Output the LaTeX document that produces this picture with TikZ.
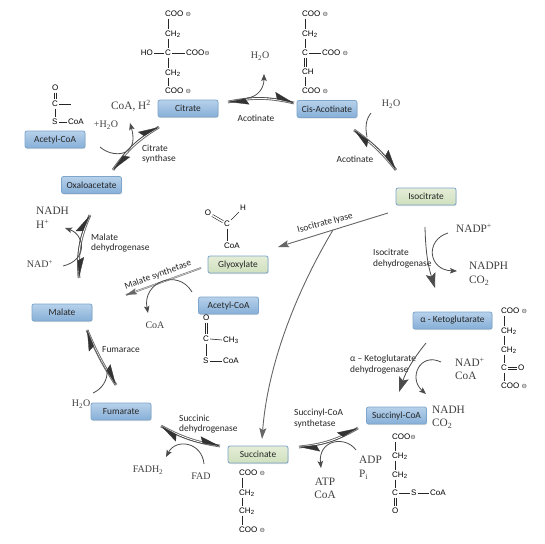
\documentclass[tikz,border=0pt]{standalone}
\usepackage{fontspec}
\setmainfont{Liberation Serif}
\newfontfamily\labfont{Carlito}
\newfontfamily\chemfont{Liberation Sans}
\newfontfamily\symfnt{DejaVu Sans}
\usetikzlibrary{arrows.meta,shadows,calc}
\definecolor{boxtop}{HTML}{B7D1EA}
\definecolor{boxbot}{HTML}{86AFD8}
\definecolor{boxline}{HTML}{7EA6CC}
\definecolor{greentop}{HTML}{E4EDD6}
\definecolor{greenbot}{HTML}{CFE0BE}
\definecolor{serifgray}{HTML}{404040}
\newcommand{\negc}{{\symfnt\fontsize{6.5}{7}\selectfont\color{black!75}⊖}}
\newcommand{\rxn}[3]{%
  \draw[rxline] (#1) to[bend left=#3] (#2);
  \draw[rxtips] (#1) to[bend left=#3] (#2);}
\newcommand{\bondv}[2]{\draw[bond] ([xshift=4pt]#1.south west) -- ([xshift=4pt]#2.north west);}
\newcommand{\bondd}[2]{%
  \draw[bond] ([xshift=3pt]#1.south west) -- ([xshift=3pt]#2.north west);
  \draw[bond] ([xshift=5pt]#1.south west) -- ([xshift=5pt]#2.north west);}
\newcommand{\bondh}[2]{\draw[bond] (#1.east) -- (#2.west);}
\tikzset{
  pathway/.style={rounded corners=2pt,minimum width=60pt,minimum height=17pt,inner sep=0pt,
    font=\labfont\fontsize{9.4}{10}\selectfont,text=black!85,draw=boxline,line width=.8pt,
    top color=boxtop,bottom color=boxbot,
    drop shadow={opacity=.25,shadow xshift=.6pt,shadow yshift=-1pt}},
  greenway/.style={pathway,draw=boxline,top color=greentop,bottom color=greenbot},
  lab/.style={font=\labfont\fontsize{9.4}{10.4}\selectfont,text=black!85,inner sep=0pt,align=left},
  labl/.style={lab,anchor=west},
  ser/.style={font=\fontsize{10}{12}\selectfont,text=serifgray,inner sep=0pt},
  serb/.style={font=\fontsize{11.3}{13}\selectfont,text=serifgray,inner sep=0pt},
  chem/.style={font=\chemfont\fontsize{8}{9}\selectfont,anchor=west,inner xsep=1pt,inner ysep=1pt,text height=6pt,text depth=1pt},
  bond/.style={draw=black!85,line width=.6pt},
  bondtwo/.style={draw=black!85,line width=.6pt,double=white,double distance=1.5pt},
  rxline/.style={draw=black!60,line width=.9pt,double=white,double distance=.9pt},
  rxtips/.style={draw=black!80,line width=.3pt,{Stealth[harpoon,length=20pt,width=13pt,inset=3pt]}-{Stealth[harpoon,length=20pt,width=13pt,inset=3pt]}},
  side/.style={draw=black!70,line width=.8pt,-{Stealth[length=7pt,width=5.5pt,inset=1.5pt]}},
  sideplain/.style={draw=black!70,line width=.8pt},
  graytip/.style={draw=black!60,line width=.9pt,-{Stealth[length=11pt,width=7pt,inset=2pt]}},
  bigarrow/.style={draw=black!70,line width=.8pt,-{Stealth[length=15pt,width=10pt,inset=3pt]}},
}
\begin{document}
\begin{tikzpicture}[x=1pt,y=-1pt]
\useasboundingbox (0,0) rectangle (545,543);
\fill[white] (0,0) rectangle (545,543);
% boxes
\node[pathway] (citrate) at (188,108.5) {Citrate};
\node[pathway] (acetyl1) at (55,139.5) {Acetyl-CoA};
\node[pathway] (oxalo) at (91.5,185) {Oxaloacetate};
\node[pathway] (cis) at (327,109) {Cis-Acotinate};
\node[greenway] (iso) at (426,196.5) {Isocitrate\hspace{9pt}};
\node[greenway] (glyox) at (238,264.5) {Glyoxylate};
\node[pathway] (acetyl2) at (228.5,305.5) {Acetyl-CoA};
\node[pathway] (malate) at (62,312.5) {Malate};
\node[pathway,minimum width=79pt] (akg) at (452.5,320.5) {α - Ketoglutarate};
\node[pathway] (fumarate) at (121,411.5) {Fumarate};
\node[greenway] (succ) at (258,454.5) {Succinate};
\node[pathway] (succoa) at (396.5,415.5) {Succinyl-CoA};
% enzyme labels
\node[labl] (t1) at (142,154) {Citrate\\[.4pt]synthase};
\node[lab] (t2) at (256,118) {Acotinate};
\node[lab] (t3) at (355,159) {Acotinate};
\node[labl] (t4) at (91,243) {Malate\\[.4pt]dehydrogenase};
\node[labl] (t5) at (102,350) {Fumarace};
\node[labl] (t6) at (373,258.5) {Isocitrate\\[.4pt]dehydrogenase};
\node[labl] (t7) at (350,364.5) {α – Ketoglutarate\\[.4pt]dehydrogenase};
\node[labl] (t8) at (294,418.5) {Succinyl-CoA\\[.4pt]synthetase};
\node[labl] (t9) at (179,424) {Succinic\\[.4pt]dehydrogenase};
\node[lab,rotate=20] (t10) at (158,275) {Malate synthetase};
\node[lab,rotate=15] (t11) at (325,223) {Isocitrate lyase};
% metabolites
\node[ser] (m1) at (260,56) {H\textsubscript{2}O};
\node[ser] (m2) at (391,104) {H\textsubscript{2}O};
\node[serb] (m3) at (131,106) {CoA, H\textsuperscript{2}};
\node[ser] (m4) at (106,125) {+H\textsubscript{2}O};
\node[serb,anchor=west] (m5) at (36,211) {NADH};
\node[serb,anchor=west] (m6) at (36,224) {H\textsuperscript{+}};
\node[ser] (m7) at (40,264) {NAD\textsuperscript{+}};
\node[ser] (m8) at (155,325) {CoA};
\node[serb,anchor=west] (m9) at (456,228) {NADP\textsuperscript{+}};
\node[serb,anchor=west] (m10) at (469,266) {NADPH};
\node[serb,anchor=west] (m11) at (469,281) {CO\textsubscript{2}};
\node[serb,anchor=west] (m12) at (455,362) {NAD\textsuperscript{+}};
\node[serb,anchor=west] (m13) at (455,376) {CoA};
\node[serb,anchor=west] (m14) at (432,410) {NADH};
\node[serb,anchor=west] (m15) at (432,424) {CO\textsubscript{2}};
\node[serb,anchor=west] (m16) at (359,460) {ADP};
\node[serb,anchor=west] (m17) at (359,475) {P\textsubscript{i}};
\node[serb] (m18) at (325,482) {ATP};
\node[serb] (m19) at (325,495) {CoA};
\node[ser] (m20) at (81,404) {H\textsubscript{2}O};
\node[ser] (m21) at (148,470) {FADH\textsubscript{2}};
\node[ser] (m22) at (201,476) {FAD};
% citrate structure
\node[chem] (a1) at (164,14) {COO \negc};
\node[chem] (a2) at (164,34) {CH\textsubscript{2}};
\node[chem] (a3) at (164,53) {C};
\node[chem] (a4) at (164,73) {CH\textsubscript{2}};
\node[chem] (a5) at (164,91) {COO \negc};
\node[chem,anchor=east] (a6) at (154,53) {HO};
\node[chem] (a7) at (185,53) {COO\negc};
\bondv{a1}{a2}\bondv{a2}{a3}\bondv{a3}{a4}\bondv{a4}{a5}\bondh{a6}{a3}\bondh{a3}{a7}
% cis-aconitate structure
\node[chem] (b1) at (301,14) {COO \negc};
\node[chem] (b2) at (301,34) {CH\textsubscript{2}};
\node[chem] (b3) at (301,53) {C};
\node[chem] (b4) at (301,72) {CH};
\node[chem] (b5) at (301,91) {COO \negc};
\node[chem] (b6) at (321,53) {COO \negc};
\bondv{b1}{b2}\bondv{b2}{b3}\bondd{b3}{b4}\bondv{b4}{b5}\bondh{b3}{b6}
% acetyl-CoA 1
\node[chem] (c1) at (51,88) {O};
\node[chem] (c2) at (51,104) {C};
\node[chem] (c3) at (51,122) {S};
\node[chem] (c4) at (67,122) {CoA};
\coordinate (c5) at (71,104);
\bondd{c1}{c2}\bondv{c2}{c3}\bondh{c3}{c4}
\draw[bond] (c2.east) -- (c5);
% glyoxylate
\node[chem,anchor=center] (d1) at (208,213) {O};
\node[chem,anchor=center] (d2) at (227,224) {C};
\node[chem,anchor=center] (d3) at (243,208) {H};
\node[chem,anchor=center] (d4) at (232,246) {CoA};
\draw[bondtwo] (d1) -- (d2);
\draw[bond] (d2) -- (d3);
\draw[bond] (d2.south) -- (d2.south |- d4.north);
% acetyl-CoA 2
\node[chem] (e1) at (202,318) {O};
\node[chem] (e2) at (202,339) {C};
\node[chem] (e3) at (222,340) {CH\textsubscript{3}};
\node[chem] (e4) at (202,361) {S};
\node[chem] (e5) at (222,361) {CoA};
\bondd{e1}{e2}\bondv{e2}{e4}\bondh{e2}{e3}\bondh{e4}{e5}
% alpha-ketoglutarate
\node[chem] (f1) at (500,311) {COO \negc};
\node[chem] (f2) at (500,331) {CH\textsubscript{2}};
\node[chem] (f3) at (500,350) {CH\textsubscript{2}};
\node[chem] (f4) at (500,368) {C};
\node[chem] (f5) at (517,368) {O};
\node[chem] (f6) at (500,386) {COO \negc};
\bondv{f1}{f2}\bondv{f2}{f3}\bondv{f3}{f4}\bondv{f4}{f6}
\draw[bond] ([yshift=1pt]f4.east) -- ([yshift=1pt]f5.west);
\draw[bond] ([yshift=-1pt]f4.east) -- ([yshift=-1pt]f5.west);
% succinyl-CoA
\node[chem] (g1) at (391,437) {COO\negc};
\node[chem] (g2) at (391,456) {CH\textsubscript{2}};
\node[chem] (g3) at (391,475) {CH\textsubscript{2}};
\node[chem] (g4) at (391,493) {C};
\node[chem] (g5) at (410,493) {S};
\node[chem] (g6) at (429,493) {CoA};
\node[chem] (g7) at (391,511) {O};
\bondv{g1}{g2}\bondv{g2}{g3}\bondv{g3}{g4}\bondd{g4}{g7}\bondh{g4}{g5}\bondh{g5}{g6}
% succinate
\node[chem] (h1) at (238,473) {COO \negc};
\node[chem] (h2) at (238,493) {CH\textsubscript{2}};
\node[chem] (h3) at (238,511) {CH\textsubscript{2}};
\node[chem] (h4) at (238,530) {COO \negc};
\bondv{h1}{h2}\bondv{h2}{h3}\bondv{h3}{h4}
% reaction ends
\coordinate (r1a) at (113,170); \coordinate (r1b) at (159,127);
\coordinate (r2a) at (228,102); \coordinate (r2b) at (294,103);
\coordinate (r3a) at (354,130); \coordinate (r3b) at (396,170);
\coordinate (r7a) at (358,428); \coordinate (r7b) at (299,447);
\coordinate (r8a) at (220,446); \coordinate (r8b) at (161,426);
\coordinate (r9a) at (116,385); \coordinate (r9b) at (87,330);
\coordinate (r10a) at (79,278); \coordinate (r10b) at (90,215);
\rxn{r1a}{r1b}{12}
\rxn{r2a}{r2b}{12}
\rxn{r3a}{r3b}{8}
\rxn{r7a}{r7b}{12}
\rxn{r8a}{r8b}{10}
\rxn{r9a}{r9b}{5}
\rxn{r10a}{r10b}{14}
% side curves
\coordinate (s1a) at (100,147); \coordinate (s1b) at (130,123);
\draw[side] (s1a) .. controls (112,158) and (140,158) .. (s1b);
\coordinate (s2a) at (247,98); \coordinate (s2b) at (264,74);
\draw[side] (s2a) .. controls (258,97) and (264,88) .. (s2b);
\coordinate (s3a) at (371,113); \coordinate (s3b) at (367,137);
\draw[sideplain] (s3a) .. controls (366,119) and (365,127) .. (s3b);
\coordinate (s7a) at (356,450); \coordinate (s7b) at (321,468);
\draw[side] (s7a) .. controls (345,435) and (318,440) .. (s7b);
\coordinate (s8a) at (204,464); \coordinate (s8b) at (166,457);
\draw[side] (s8a) .. controls (202,442) and (176,438) .. (s8b);
\coordinate (s9a) at (93,393); \coordinate (s9b) at (107,370);
\draw[sideplain] (s9a) .. controls (102,389) and (108,380) .. (s9b);
\coordinate (s10a) at (63,266); \coordinate (s10b) at (65,228);
\draw[side] (s10a) .. controls (88,260) and (85,235) .. (s10b);
% isocitrate lyase
\coordinate (k1) at (388,213); \coordinate (k2) at (278,247); \coordinate (k3) at (333,230); \coordinate (k4) at (262,439);
\draw[graytip] (k1) -- (k2);
\draw[graytip] (k3) .. controls (300,285) and (268,360) .. (k4);
% isocitrate dehydrogenase
\coordinate (l1) at (425,227); \coordinate (l2) at (435,288);
\draw[bigarrow] (l1) to[bend right=8] (l2);
\coordinate (l3) at (448,233); \coordinate (l4) at (457,271);
\draw[side] (l3) .. controls (425,240) and (428,270) .. (l4);
% ketoglutarate dehydrogenase
\coordinate (n1) at (426,343); \coordinate (n2) at (399,392);
\draw[bigarrow] (n1) to[bend right=10] (n2);
\coordinate (n3) at (441,362); \coordinate (n4) at (426,394);
\draw[side] (n3) .. controls (420,352) and (408,378) .. (n4);
% malate synthetase
\coordinate (q1) at (201,268); \coordinate (q2) at (126,295);
\draw[draw=black!60,line width=.5pt,double=white,double distance=.7pt] (q1) -- (q2);
\draw[draw=black!60,line width=.1pt,-{Stealth[length=11pt,width=6pt,inset=2pt]}] (q1) -- (q2);
\coordinate (q3) at (192,292); \coordinate (q4) at (148,313);
\draw[side] (q3) .. controls (178,268) and (142,282) .. (q4);
\end{tikzpicture}
\end{document}
